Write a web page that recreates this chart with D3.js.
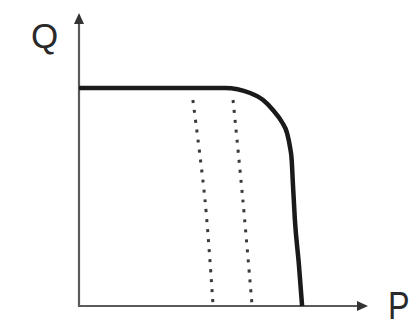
<!DOCTYPE html>
<html><head><meta charset="utf-8">
<script src="https://cdn.jsdelivr.net/npm/d3@7"></script>
<style>html,body{margin:0;padding:0;background:#fff;}svg{display:block;}</style>
</head><body>
<script>
// Data (P on x, Q on y, 0-100 units)
const curveP = [0, 50.5, 59.2, 63.7, 67.1, 70.2, 72.0, 73.0, 73.6, 73.95, 74.7, 76.1, 77.2];
const curveQ = [74.4, 74.4, 72.7, 70.3, 66.9, 62.8, 59.0, 54.3, 49.8, 43.0, 29.4, 14.0, 0];
const dot1P = [39.4, 43.6, 46.4];
const dot1Q = [70.3, 36.2, 0];
const dot2P = [53.3, 56.7, 59.9];
const dot2Q = [70.3, 36.2, 0];
const axisLabels = ["P", "Q"];

const W = 410, H = 330;
const svg = d3.select("body").append("svg").attr("width", W).attr("height", H);
const x = d3.scaleLinear().domain([0, 100]).range([79, 368]);
const y = d3.scaleLinear().domain([0, 100]).range([306, 13]);

const axisColor = "#5a5a5a";
// axes lines
svg.append("line").attr("x1", x(0)).attr("x2", x(100) - 8).attr("y1", y(0)).attr("y2", y(0))
  .attr("stroke", axisColor).attr("stroke-width", 2.2);
svg.append("line").attr("x1", x(0)).attr("x2", x(0)).attr("y1", y(0) + 1).attr("y2", y(100) + 8)
  .attr("stroke", axisColor).attr("stroke-width", 2.2);
// arrowheads
svg.append("path").attr("d", `M${x(100)},${y(0)} L${x(100) - 11},${y(0) - 5} L${x(100) - 11},${y(0) + 5} Z`).attr("fill", "#333");
svg.append("path").attr("d", `M${x(0)},${y(100)} L${x(0) - 5},${y(100) + 11} L${x(0) + 5},${y(100) + 11} Z`).attr("fill", "#333");

// labels
svg.append("text").attr("x", 31).attr("y", 48).text(axisLabels[1])
  .attr("font-family", "Liberation Sans, Arial, sans-serif").attr("font-size", 35).attr("fill", "#2a2a2a");
svg.append("text").attr("transform", "translate(388,319) scale(0.85,1)").text(axisLabels[0])
  .attr("font-family", "Liberation Sans, Arial, sans-serif").attr("font-size", 38).attr("fill", "#2a2a2a");

// dotted lines
const lin = d3.line().x(d => x(d[0])).y(d => y(d[1])).curve(d3.curveCatmullRom.alpha(0.5));
[[dot1P, dot1Q], [dot2P, dot2Q]].forEach(([ps, qs]) => {
  svg.append("path").attr("d", lin(ps.map((p, i) => [p, qs[i]])))
    .attr("fill", "none").attr("stroke", "#3a3a3a").attr("stroke-width", 3)
    .attr("stroke-dasharray", "3 7");
});

// main curve
const mono = d3.line().x(d => x(d[0])).y(d => y(d[1])).curve(d3.curveMonotoneX);
svg.append("path").attr("d", mono(curveP.map((p, i) => [p, curveQ[i]])))
  .attr("fill", "none").attr("stroke", "#1a1a1a").attr("stroke-width", 4.5)
  .attr("stroke-linejoin", "round");
</script>
</body></html>
